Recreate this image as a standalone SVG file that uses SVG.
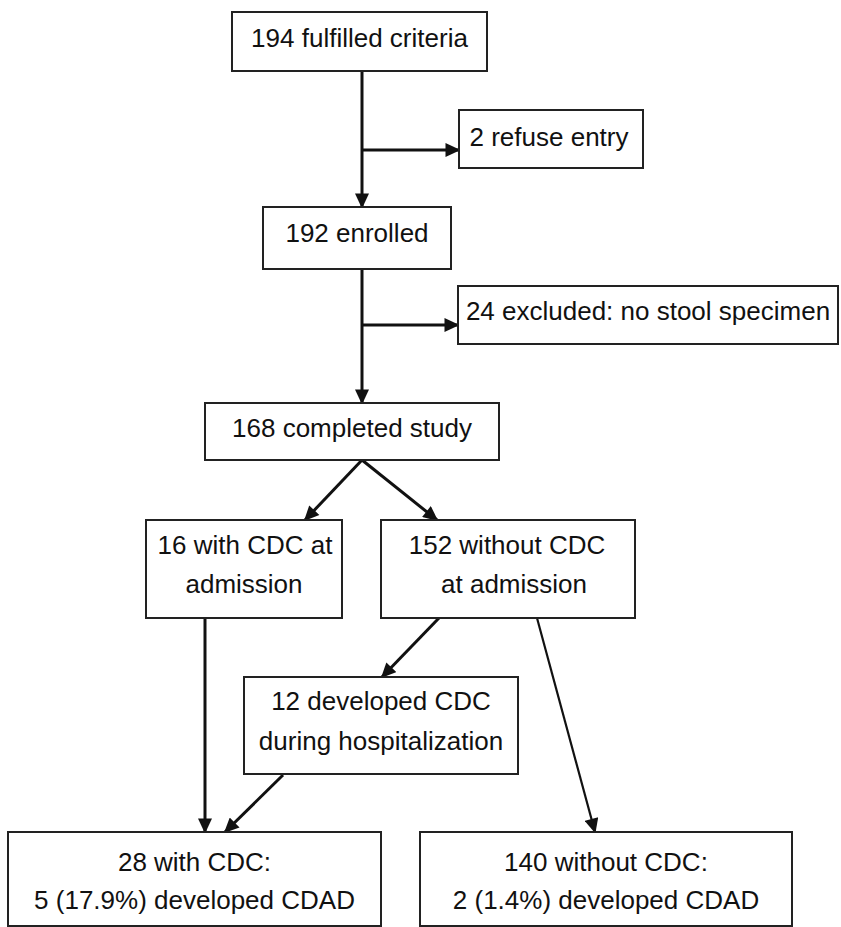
<svg xmlns="http://www.w3.org/2000/svg" width="841" height="927" viewBox="0 0 841 927">
<style>
.box{fill:#fff;stroke:#222;stroke-width:2}
.t{font-family:"Liberation Sans",Arial,sans-serif;font-size:26px;fill:#111;text-anchor:middle}
.c{fill:none;stroke:#111;stroke-width:3}
.thin{stroke-width:2.2}
</style>
<defs>
<marker id="ah" markerUnits="userSpaceOnUse" markerWidth="16" markerHeight="14" viewBox="0 0 15 14" refX="13.5" refY="7" orient="auto">
<path d="M0,0 L15,7 L0,14 z" fill="#111"/>
</marker>
</defs>
<rect width="841" height="927" fill="#fff"/>
<g id="connectors">
<line class="c" x1="362" y1="71" x2="362" y2="207" marker-end="url(#ah)"/>
<line class="c" x1="362" y1="150" x2="459" y2="150" marker-end="url(#ah)"/>
<line class="c" x1="362" y1="269" x2="362" y2="403" marker-end="url(#ah)"/>
<line class="c" x1="362" y1="325" x2="458" y2="325" marker-end="url(#ah)"/>
<line class="c" x1="362" y1="460" x2="305" y2="520" marker-end="url(#ah)"/>
<line class="c" x1="362" y1="460" x2="437" y2="520" marker-end="url(#ah)"/>
<line class="c" x1="439" y1="618" x2="382" y2="677" marker-end="url(#ah)"/>
<line class="c" x1="205" y1="618" x2="205" y2="832" marker-end="url(#ah)"/>
<line class="c" x1="283" y1="775" x2="225" y2="832" marker-end="url(#ah)"/>
<line class="c thin" x1="537" y1="618" x2="595" y2="832" marker-end="url(#ah)"/>
</g>
<g id="n194">
<rect class="box" x="232" y="12" width="255" height="59"/>
<text class="t" x="359.5" y="47">194 fulfilled criteria</text>
</g>
<g id="nrefuse">
<rect class="box" x="459" y="110" width="184" height="58"/>
<text class="t" x="549" y="146">2 refuse entry</text>
</g>
<g id="n192">
<rect class="box" x="263" y="207" width="188" height="62"/>
<text class="t" x="357" y="242">192 enrolled</text>
</g>
<g id="nexcluded">
<rect class="box" x="458" y="286" width="380" height="58"/>
<text class="t" x="648" y="320">24 excluded: no stool specimen</text>
</g>
<g id="n168">
<rect class="box" x="205" y="403" width="294" height="57"/>
<text class="t" x="352" y="437">168 completed study</text>
</g>
<g id="n16">
<rect class="box" x="146" y="520" width="196" height="98"/>
<text class="t" x="245" y="554">16 with CDC at</text>
<text class="t" x="244" y="593">admission</text>
</g>
<g id="n152">
<rect class="box" x="381" y="520" width="254" height="98"/>
<text class="t" x="507" y="554">152 without CDC</text>
<text class="t" x="514" y="593">at admission</text>
</g>
<g id="n12">
<rect class="box" x="244" y="677" width="274" height="97"/>
<text class="t" x="381" y="710">12 developed CDC</text>
<text class="t" x="381" y="750">during hospitalization</text>
</g>
<g id="n28">
<rect class="box" x="8" y="832" width="373" height="94"/>
<text class="t" x="194.5" y="871">28 with CDC:</text>
<text class="t" x="194.5" y="909">5 (17.9%) developed CDAD</text>
</g>
<g id="n140">
<rect class="box" x="420" y="832" width="372" height="94"/>
<text class="t" x="606" y="871">140 without CDC:</text>
<text class="t" x="606" y="909">2 (1.4%) developed CDAD</text>
</g>
</svg>
